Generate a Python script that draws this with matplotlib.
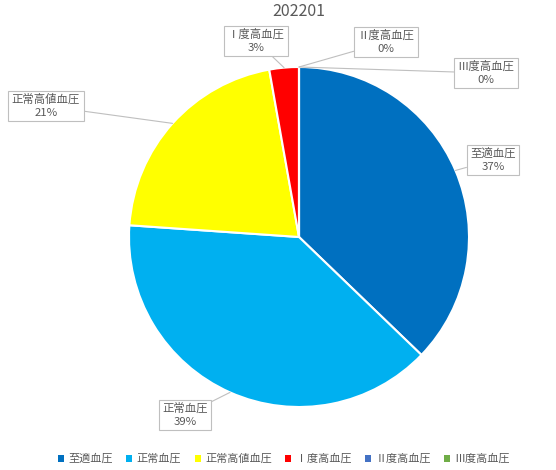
import numpy as np
import matplotlib
matplotlib.use('Agg')
import matplotlib.pyplot as plt
from matplotlib.patches import Patch

plt.rcParams['font.family'] = ['Noto Sans CJK JP', 'DejaVu Sans']

# Data
categories = ['至適血圧', '正常血圧', '正常高値血圧', 'Ⅰ度高血圧', 'Ⅱ度高血圧', 'Ⅲ度高血圧']
shares = [37.2, 38.9, 21.1, 2.8, 0.0, 0.0]
colors = ['#0070C0', '#00B0F0', '#FFFF00', '#FF0000', '#4472C4', '#70AD47']
title = '202201'

# label box centres in figure pixels (from top-left)
label_pos = [(493, 160), (185, 415), (46, 106), (256, 41), (386, 42), (486, 73)]

W, H = 556, 470
fig = plt.figure(figsize=(W / 100, H / 100), dpi=100)
cx, cy, r = 299, 237, 170
ax = fig.add_axes([(cx - r) / W, (H - cy - r) / H, 2 * r / W, 2 * r / H])
ax.set_aspect('equal')

wedges, _ = ax.pie(shares, colors=colors, startangle=90, counterclock=False,
                   radius=1.0, wedgeprops=dict(edgecolor='white', linewidth=1.5))
ax.set_xlim(-1, 1)
ax.set_ylim(-1, 1)

total = sum(shares)
cum = 0.0
for i, (name, v) in enumerate(zip(categories, shares)):
    mid = (cum + v / 2) / total * 360.0
    cum += v
    theta = np.deg2rad(90 - mid)
    px, py = label_pos[i]
    ax.annotate(f'{name}\n{round(v / total * 100):.0f}%',
                xy=(np.cos(theta), np.sin(theta)), xycoords='data',
                xytext=(px, H - py), textcoords='figure pixels',
                ha='center', va='center', fontsize=8.2, color='#595959',
                linespacing=1.35, annotation_clip=False,
                bbox=dict(boxstyle='square,pad=0.3', fc='white', ec='#BFBFBF', lw=0.8),
                arrowprops=dict(arrowstyle='-', color='#BFBFBF', lw=0.8,
                                shrinkA=0, shrinkB=0))

fig.text(cx / W, 1 - 12 / H, title, ha='center', va='center',
         fontsize=11.5, color='#595959')

handles = [Patch(facecolor=c, edgecolor='none') for c in colors]
fig.legend(handles, categories, loc='center', bbox_to_anchor=(284 / W, 11 / H),
           ncol=6, frameon=False, fontsize=8, handlelength=0.55, handleheight=0.55,
           handletextpad=0.4, columnspacing=1.2, labelcolor='#595959')

fig.savefig('out.png', dpi=100)
